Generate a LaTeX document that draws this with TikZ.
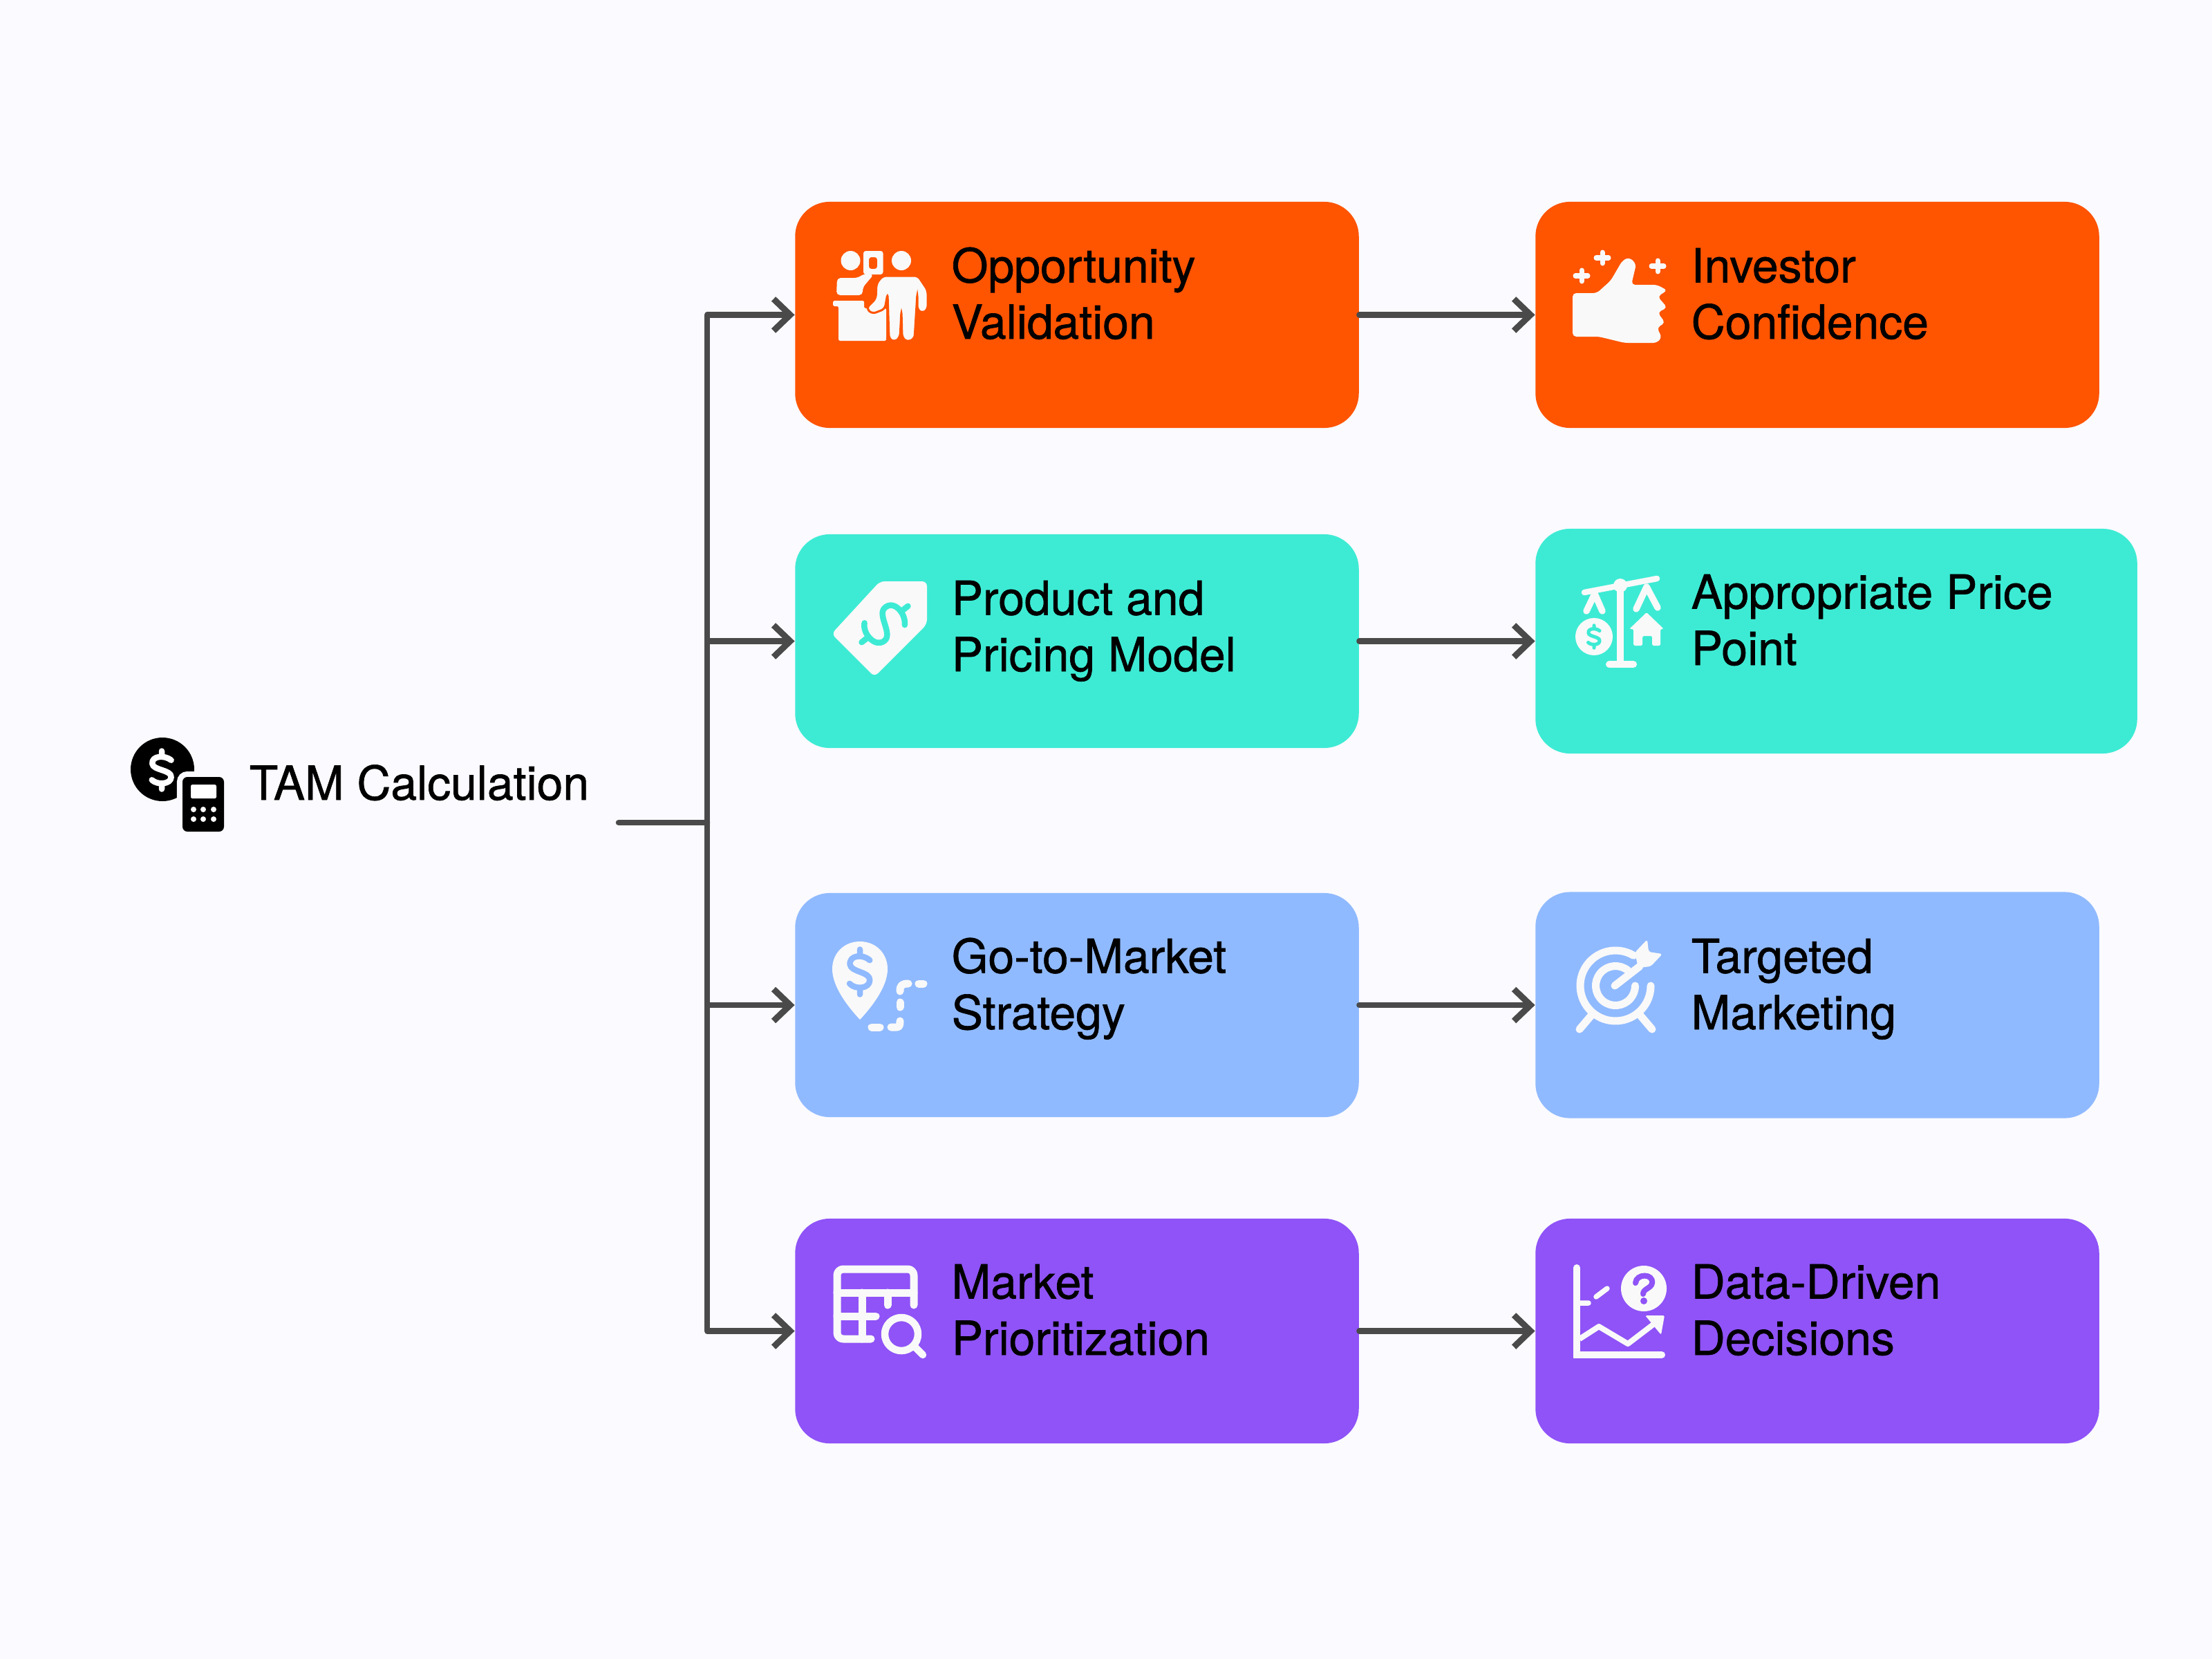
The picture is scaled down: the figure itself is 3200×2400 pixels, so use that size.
\documentclass[tikz,border=0pt]{standalone}
\usepackage{fontspec}
\setmainfont{TeX Gyre Heros}[FakeBold=1]
\usetikzlibrary{arrows.meta,positioning}

\definecolor{pagebg}{HTML}{FAFAFF}
\definecolor{flowgray}{HTML}{4A4A4A}
\definecolor{iconwhite}{HTML}{F9F9F9}
\definecolor{orangebox}{HTML}{FF5400}
\definecolor{tealbox}{HTML}{3DEBD4}
\definecolor{bluebox}{HTML}{90BAFF}
\definecolor{purplebox}{HTML}{8F53F7}

\tikzset{
  card/.style={rectangle,inner sep=0pt,rounded corners=.5cm,minimum width=8.15cm,minimum height=3.27cm},
  boxlabel/.style={anchor=base west,inner sep=0pt,align=left,font=\fontsize{19.3}{23.2}\selectfont},
  flow/.style={draw=flowgray,line width=.085cm,line cap=round,line join=round,
    -{Straight Barb[length=.24cm,width=.46cm,line width=.09cm]}},
  iconfill/.style={fill=iconwhite,draw=none},
  iconline/.style={draw=iconwhite,line width=.11cm,line cap=round,line join=round},
  dollar/.pic={
    \draw[line cap=round,line join=round,pic actions]
      (.62,-.65) .. controls (.2,-1) and (-.7,-.95) .. (-.62,-.4)
      .. controls (-.55,.02) and (.62,-.02) .. (.62,.45)
      .. controls (.62,.95) and (-.3,1) .. (-.65,.65)
      (0,-1.25) -- (0,-.9) (0,.9) -- (0,1.25);
  }
}

\begin{document}
\begin{tikzpicture}[x=.01cm,y=-.01cm]
  \useasboundingbox[fill=pagebg] (0,0) rectangle (3200,2400);

  % left column
  \node[card,fill=orangebox] (oppv) at (1558,455.5) {};
  \node[card,fill=tealbox,minimum height=3.09cm] (prod) at (1558,927.5) {};
  \node[card,fill=bluebox,minimum height=3.24cm] (gtm) at (1558,1454) {};
  \node[card,fill=purplebox,minimum height=3.25cm] (prio) at (1558,1925.5) {};

  % right column
  \node[card,fill=orangebox] (inv) [right=2.54cm of oppv] {};
  \node[card,fill=tealbox,minimum width=8.7cm] (price) [right=2.54cm of prod,minimum height=3.25cm] {};
  \node[card,fill=bluebox] (targ) [right=2.54cm of gtm] {};
  \node[card,fill=purplebox,minimum height=3.25cm] (data) [right=2.54cm of prio] {};

  \node[boxlabel] (oppvtxt) at (1376,490) {Opportunity\\Validation};
  \node[boxlabel] (prodtxt) at (1376,971) {Product and\\Pricing Model};
  \node[boxlabel] (gtmtxt) at (1376,1489) {Go-to-Market\\Strategy};
  \node[boxlabel] (priotxt) at (1376,1960) {Market\\Prioritization};
  \node[boxlabel] (invtxt) at (2446,490) {Investor\\Confidence};
  \node[boxlabel] (pricetxt) at (2446,962) {Appropriate Price\\Point};
  \node[boxlabel] (targtxt) at (2446,1489) {Targeted\\Marketing};
  \node[boxlabel] (datatxt) at (2446,1960) {Data-Driven\\Decisions};
  \node[boxlabel] (tamtxt) at (360,1157) {TAM Calculation};

  % connectors
  \coordinate (tamout) at (895,1190);
  \coordinate (hub) at (1023,1190);
  \draw[draw=flowgray,line width=.085cm,line cap=round] (tamout) -- (hub);
  \draw[flow] (hub) |- (oppv);
  \draw[flow] (hub) |- (prod);
  \draw[flow] (hub) |- (gtm);
  \draw[flow] (hub) |- (prio);
  \draw[flow] (oppv) -- (inv);
  \draw[flow] (prod) -- (price);
  \draw[flow] (gtm) -- (targ);
  \draw[flow] (prio) -- (data);

  % TAM icon
  \fill[black] (235,1113) circle (46);
  \fill[black,draw=pagebg,line width=.16cm,rounded corners=2pt] (264,1124) rectangle (324,1203);
  \fill[black,rounded corners=2pt] (264,1124) rectangle (324,1203);
  \fill[white,rounded corners=.5pt] (276,1135) rectangle (313,1155);
  \foreach \bx in {280,294,309} \foreach \by in {1171,1185} \fill[white] (\bx,\by) circle (4);
  \pic[draw=white,line width=.085cm,scale=22] at (234,1114) {dollar};

  % Opportunity icon
  \path[iconfill] (1230.5,377) circle (14) (1304,377) circle (14);
  \path[iconfill,even odd rule,rounded corners=1pt] (1249,363) rectangle (1277.5,397) (1257,372) rectangle (1269,389);
  \path[iconfill,rounded corners=1.5pt] (1210,427) -- (1211,402) -- (1241,402) -- (1250,396) -- (1264,397) -- (1248,416) -- (1248,427) -- cycle;
  \path[iconfill,rounded corners=.5pt] (1205,435) -- (1250,435) -- (1250,446) -- (1282,446) -- (1282,493) -- (1213,493) -- (1213,443) -- (1205,443) -- cycle;
  \path[fill=iconwhite,draw=orangebox,line width=.03cm,rounded corners=1.5pt]
    (1268,410) -- (1277,399) -- (1328,399) -- (1342,420) -- (1342,448) -- (1334,453) -- (1327,448) -- (1327,425)
    -- (1323,490) -- (1312,495) -- (1305,488) -- (1304,450) -- (1302,488) -- (1294,495) -- (1286,490) -- (1284,425)
    -- (1280,447) -- (1262,454) -- (1253,446) -- (1267,432) -- cycle;

  % Investor icon
  \path[iconfill,rounded corners=1.5pt] (2275,424) -- (2310,424) -- (2330,406) -- (2347,377) -- (2357,372) -- (2367,382) -- (2360,412)
    -- (2397,412) -- (2412,420) -- (2398,429) -- (2412,445) -- (2398,452) -- (2409,467) -- (2397,474) -- (2404,488) -- (2397,496)
    -- (2350,496) -- (2313,487) -- (2275,487) -- cycle;
  \draw[iconline,line width=.07cm] (2279,399) -- (2297,399) (2288,391) -- (2288,407);
  \draw[iconline,line width=.07cm] (2309,373) -- (2327,373) (2318,365) -- (2318,381);
  \draw[iconline,line width=.07cm] (2389,385) -- (2407,385) (2398,377) -- (2398,393);

  % Product icon
  \path[iconfill,rounded corners=2pt] (1203,917) -- (1273,841) -- (1341,841) -- (1341,903) -- (1265,979) -- cycle;
  \pic[draw=tealbox,line width=.085cm,rotate=-52,xscale=30,yscale=34] at (1280,903) {dollar};

  % Price icon
  \draw[iconline,line width=.085cm] (2292,857) -- (2397,837);
  \fill[iconwhite] (2344,847) circle (10);
  \draw[iconline,line width=.1cm,line cap=butt] (2344,850) -- (2344,961);
  \draw[iconline,line width=.1cm] (2328,961) -- (2363,961);
  \draw[iconline,line width=.095cm] (2295,884) -- (2307,859) -- (2318,884);
  \draw[iconline,line width=.095cm] (2367,881) -- (2382,849) -- (2398,879);
  \fill[iconwhite] (2306,921) circle (27);
  \pic[draw=tealbox,line width=.05cm,scale=13] at (2306,921) {dollar};
  \path[iconfill,rounded corners=.5pt] (2382,886) -- (2407,910) -- (2402,910) -- (2402,934) -- (2390,934) -- (2390,920) -- (2376,920) -- (2376,934) -- (2363,934) -- (2363,910) -- (2357,910) -- cycle;

  % Go-to-Market icon
  \path[iconfill] (1244,1475) .. controls (1228,1458) and (1204,1428) .. (1204,1402)
    .. controls (1204,1378) and (1222,1362) .. (1244,1362)
    .. controls (1266,1362) and (1284,1378) .. (1284,1402)
    .. controls (1284,1428) and (1260,1458) .. (1244,1475) -- cycle;
  \pic[draw=bluebox,line width=.085cm,xscale=23,yscale=26] at (1244,1406) {dollar};
  \draw[iconline] (1261,1486) -- (1273,1486);
  \draw[iconline] (1289,1486) -- (1297,1486) .. controls (1301,1486) and (1302,1484) .. (1302,1477);
  \draw[iconline] (1302,1450) -- (1302,1457);
  \draw[iconline] (1302,1434) .. controls (1302,1426) and (1304,1423) .. (1314,1423);
  \draw[iconline] (1329,1423) -- (1336,1423);

  % Targeted icon
  \draw[iconline] (2337,1426) ++(-59:51) arc[start angle=-59,end angle=-360,radius=51];
  \draw[iconline] (2337,1426) ++(-50:28.5) arc[start angle=-50,end angle=-360,radius=28.5];
  \draw[iconline] (2336,1426) -- (2372,1398);
  \path[iconfill,rounded corners=1pt] (2365,1378) -- (2383,1359) -- (2385,1377) -- (2405,1380) -- (2388,1398) -- (2370,1400) -- cycle;
  \draw[iconline] (2302,1469) -- (2285,1489) (2373,1469) -- (2390,1489);

  % Market icon
  \draw[iconline,rounded corners=2.5pt] (1322,1888) -- (1322,1836) -- (1211,1836) -- (1211,1937) -- (1260,1937);
  \draw[iconline] (1211,1870) -- (1322,1870) (1247,1870) -- (1247,1937) (1211,1904) -- (1267,1904) (1284,1870) -- (1284,1888);
  \draw[iconline,line width=.105cm] (1304,1930) circle (24);
  \draw[iconline,line width=.105cm] (1323,1948) -- (1335,1960);

  % Data icon
  \draw[iconline,line width=.1cm,line join=miter] (2281,1834) -- (2281,1960) -- (2404,1960);
  \draw[iconline,line width=.075cm] (2285,1885) -- (2298,1885) (2309,1876) -- (2325,1864);
  \draw[iconline,line width=.08cm,line cap=butt] (2285,1937) -- (2313,1919) -- (2355,1944) -- (2393,1915);
  \path[iconfill,rounded corners=.5pt] (2380,1903) -- (2408,1903) -- (2403,1931) -- cycle;
  \fill[iconwhite] (2378,1864) circle (33);
  \draw[draw=purplebox,line width=.08cm,line cap=round] (2366,1856) .. controls (2367,1842) and (2392,1842) .. (2390,1856)
    .. controls (2389,1864) and (2377,1864) .. (2377,1872);
  \fill[purplebox] (2378,1882) circle (5);
\end{tikzpicture}
\end{document}
